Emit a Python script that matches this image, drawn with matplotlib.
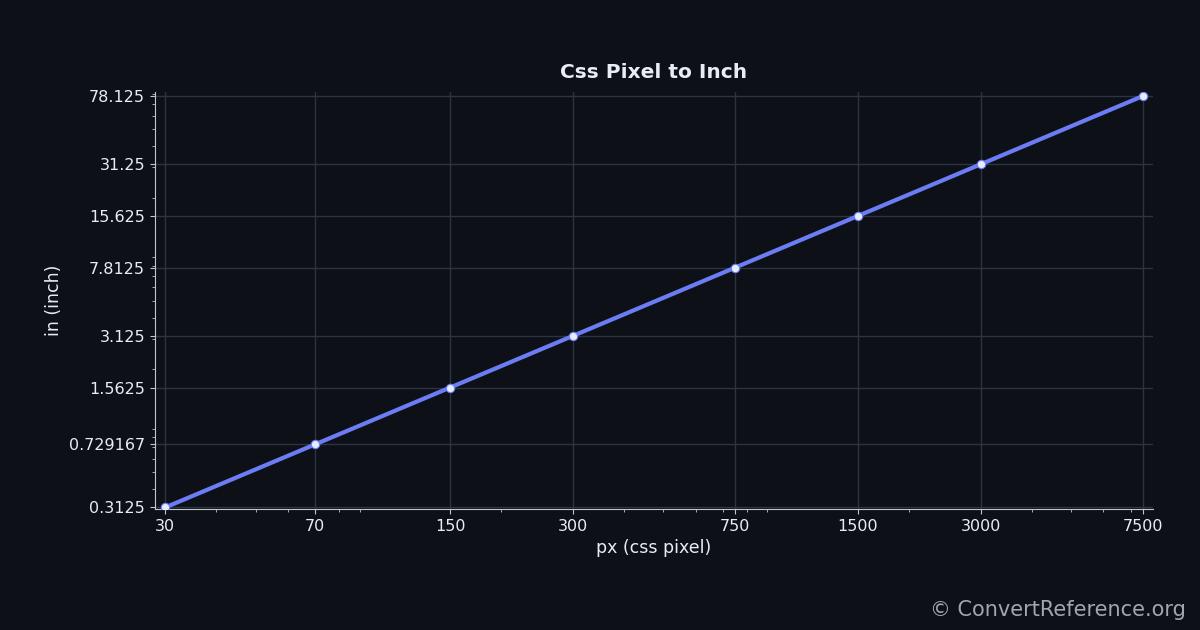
import matplotlib
matplotlib.use("Agg")
import matplotlib.pyplot as plt
from matplotlib.ticker import FixedLocator, FixedFormatter, NullFormatter

px = [30, 70, 150, 300, 750, 1500, 3000, 7500]
inch = [0.3125, 0.729167, 1.5625, 3.125, 7.8125, 15.625, 31.25, 78.125]
xlabels = ["30", "70", "150", "300", "750", "1500", "3000", "7500"]
ylabels = ["0.3125", "0.729167", "1.5625", "3.125", "7.8125", "15.625", "31.25", "78.125"]

bg = "#0d1117"
fg = "#e6edf3"
fig = plt.figure(figsize=(12, 6.3), dpi=100, facecolor=bg)
ax = fig.add_axes([0.129, 0.192, 0.832, 0.662], facecolor=bg)
ax.set_xscale("log")
ax.set_yscale("log")
ax.plot(px, inch, color="#6b7cf5", lw=3, zorder=3)
ax.scatter(px, inch, s=36, color="#e6ecfb", edgecolor="#6b7cf5", linewidth=0.8, zorder=4)
ax.set_xlim(28.3, 7950)
ax.set_ylim(0.306, 82.5)
ax.xaxis.set_major_locator(FixedLocator(px))
ax.xaxis.set_major_formatter(FixedFormatter(xlabels))
ax.yaxis.set_major_locator(FixedLocator(inch))
ax.yaxis.set_major_formatter(FixedFormatter(ylabels))
ax.xaxis.set_minor_formatter(NullFormatter())
ax.yaxis.set_minor_formatter(NullFormatter())
ax.grid(True, which="major", color="#2b3440", lw=1)
for s in ["top", "right"]:
    ax.spines[s].set_visible(False)
for s in ["left", "bottom"]:
    ax.spines[s].set_color("#c0c6cf")
ax.tick_params(which="both", colors="#c0c6cf", labelcolor=fg, labelsize=11.5)
ax.set_title("Css Pixel to Inch", color=fg, fontsize=14.5, fontweight="bold", pad=10)
ax.set_xlabel("px (css pixel)", color=fg, fontsize=12.5)
ax.set_ylabel("in (inch)", color=fg, fontsize=12.5)
fig.text(0.988, 0.022, "© ConvertReference.org", color="#a0a7b0", fontsize=15, ha="right")
fig.savefig("out.png", facecolor=bg)
